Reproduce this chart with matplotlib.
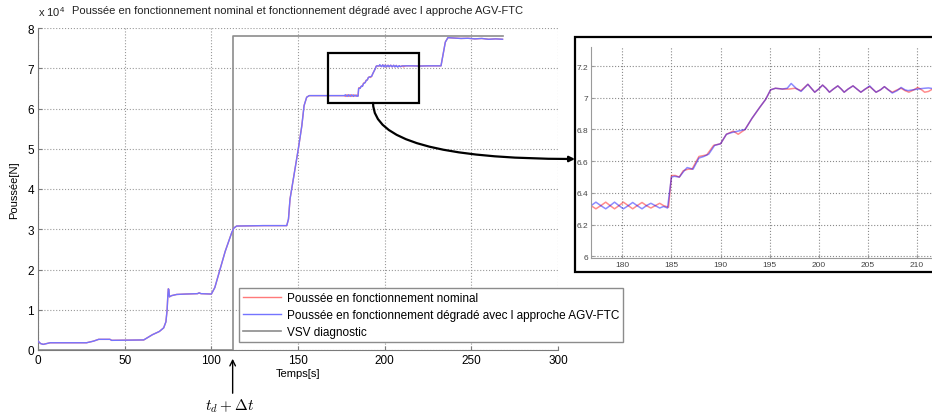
import numpy as np
import matplotlib
matplotlib.use("Agg")
import matplotlib.pyplot as plt
from matplotlib.patches import Rectangle
from matplotlib.ticker import FuncFormatter

plt.rcParams['font.family'] = ['Liberation Sans', 'DejaVu Sans']
plt.rcParams['mathtext.fontset'] = 'cm'

# ---------------- Donnees (poussee en x 10^4 N) ----------------
# Debut commun aux deux essais
t_debut = [0, 1.5, 3, 7, 28, 32, 35, 41.5, 42.5, 61, 66, 70, 72.5, 73.8, 74.5,
           74.9, 75.2, 75.5, 75.8, 77, 80, 85, 92, 93, 94, 100, 102, 105, 108,
           111.8, 113, 114.6, 130, 143.5, 144.5, 145.4, 147.3, 150.2, 152.2,
           153.5, 155, 156.5, 165, 176.3]
p_debut = [0.22, 0.16, 0.14, 0.18, 0.18, 0.22, 0.265, 0.265, 0.24, 0.25, 0.38,
           0.46, 0.55, 0.7, 1.0, 1.35, 1.52, 1.5, 1.32, 1.35, 1.38, 1.39, 1.40,
           1.42, 1.40, 1.39, 1.55, 2.0, 2.45, 2.92, 3.03, 3.08, 3.09, 3.09,
           3.25, 3.75, 4.24, 5.0, 5.57, 6.07, 6.28, 6.32, 6.32, 6.32]

# Zone agrandie - fonctionnement nominal
t_zoom_nom = [176.8, 177.3, 177.8, 178.3, 178.75, 179.2, 179.65, 180.1, 180.6,
              181.05, 181.5, 182.0, 182.45, 182.9, 183.35, 183.8, 184.2, 184.7,
              185.0, 185.4, 185.8, 186.2, 186.7, 187.1, 187.8, 188.6, 189.3,
              190.0, 190.6, 191.3, 191.8, 192.5, 193.2, 194.0, 194.6, 195.1,
              195.6, 196.3, 197.0, 197.6, 198.2, 198.9, 199.25, 199.6, 200.0,
              200.4, 200.75, 201.1, 201.5, 201.95, 202.3, 202.6, 203.0, 203.5,
              203.9, 204.3, 204.75, 205.2, 205.5, 205.85, 206.3, 206.7, 207.1,
              207.5, 208.0, 208.4, 208.8, 209.2, 209.7, 210.1, 210.5, 210.8,
              211.2, 211.6]
p_zoom_nom = [6.32, 6.30, 6.32, 6.342, 6.32, 6.30, 6.32, 6.342, 6.32, 6.30,
              6.32, 6.34, 6.32, 6.305, 6.32, 6.335, 6.32, 6.31,
              6.51, 6.51, 6.50, 6.54, 6.55, 6.55, 6.63, 6.64, 6.70, 6.71, 6.77,
              6.79, 6.77, 6.80, 6.87, 6.94, 6.99, 7.05, 7.06, 7.055, 7.055,
              7.06, 7.045, 7.085, 7.06, 7.035, 7.055, 7.08, 7.06, 7.035, 7.055,
              7.075, 7.055, 7.035, 7.055, 7.075, 7.055, 7.035, 7.055, 7.07,
              7.055, 7.035, 7.05, 7.07, 7.05, 7.035, 7.05, 7.06, 7.045, 7.035,
              7.05, 7.065, 7.05, 7.035, 7.04, 7.055]

# Zone agrandie - fonctionnement degrade (AGV-FTC)
t_zoom_deg = [176.8, 177.3, 177.8, 178.3, 178.75, 179.2, 179.65, 180.1, 180.6,
              181.05, 181.5, 182.0, 182.45, 182.9, 183.35, 183.8, 184.2, 184.6,
              185.0, 185.3, 185.8, 186.3, 186.6, 187.2, 187.8, 188.3, 188.8,
              189.4, 190.0, 190.6, 191.1, 191.8, 192.5, 193.2, 194.0, 194.6,
              195.1, 195.6, 196.3, 196.8, 197.2, 197.7, 198.2, 198.9, 199.25,
              199.6, 200.0, 200.4, 200.75, 201.1, 201.5, 201.95, 202.3, 202.6,
              203.0, 203.5, 203.9, 204.3, 204.75, 205.2, 205.5, 205.85, 206.3,
              206.7, 207.1, 207.5, 208.0, 208.4, 208.8, 209.1, 209.6, 210.1,
              210.5, 210.8, 211.2, 211.6]
p_zoom_deg = [6.32, 6.342, 6.32, 6.30, 6.32, 6.342, 6.32, 6.30, 6.32, 6.34,
              6.32, 6.30, 6.32, 6.335, 6.32, 6.305, 6.315, 6.305,
              6.50, 6.505, 6.50, 6.54, 6.56, 6.55, 6.62, 6.63, 6.645, 6.70,
              6.71, 6.77, 6.78, 6.79, 6.80, 6.87, 6.94, 6.99, 7.05, 7.06, 7.055,
              7.06, 7.09, 7.06, 7.04, 7.085, 7.06, 7.035, 7.055, 7.08, 7.06,
              7.035, 7.055, 7.075, 7.055, 7.035, 7.055, 7.075, 7.055, 7.035,
              7.055, 7.075, 7.055, 7.035, 7.05, 7.07, 7.05, 7.03, 7.045, 7.065,
              7.05, 7.045, 7.05, 7.055, 7.058, 7.06, 7.062, 7.058]

# Fin commune
t_fin = [212.5, 216, 220, 225, 230, 232.5, 233.5, 235, 236.5, 240, 244, 248,
         252, 256, 260, 264, 268]
p_fin = [7.06, 7.06, 7.055, 7.06, 7.06, 7.06, 7.3, 7.65, 7.76, 7.75, 7.74,
         7.745, 7.73, 7.74, 7.72, 7.73, 7.72]

# Signal de diagnostic VSV
t_vsv = [0, 112.3, 112.3, 268]
p_vsv = [0, 0, 7.8, 7.8]
t_diag = 112.3

# Zone encadree sur le graphe principal
cadre_t = (167.2, 220)
cadre_p = (6.14, 7.37)

labels = ["Poussée en fonctionnement nominal",
          "Poussée en fonctionnement dégradé avec l approche AGV-FTC",
          "VSV diagnostic"]

t_nom = np.concatenate([t_debut, t_zoom_nom, t_fin])
p_nom = np.concatenate([p_debut, p_zoom_nom, p_fin])
t_deg = np.concatenate([t_debut, t_zoom_deg, t_fin])
p_deg = np.concatenate([p_debut, p_zoom_deg, p_fin])

rouge = '#ff7a7a'
bleu = '#7474ff'
gris = '#8c8c8c'

W, H = 932, 414
fig = plt.figure(figsize=(W / 100, H / 100), dpi=100)

# ---------------- Graphe principal ----------------
ax = fig.add_axes([38 / W, 1 - 351 / H, 520 / W, 322 / H])
l3, = ax.plot(t_vsv, p_vsv, color=gris, lw=1.2, zorder=2)
l1, = ax.plot(t_nom, p_nom, color=rouge, lw=1.0, zorder=3)
l2, = ax.plot(t_deg, p_deg, color=bleu, lw=1.0, zorder=4)

ax.set_xlim(0, 300)
ax.set_ylim(0, 8)
ax.set_xticks(np.arange(0, 301, 50))
ax.set_yticks(np.arange(0, 9, 1))
ax.grid(True, linestyle=':', color='#9a9a9a', lw=0.8)
for s in ['top', 'right']:
    ax.spines[s].set_visible(False)
for s in ['left', 'bottom']:
    ax.spines[s].set_color('#7a7a7a')
ax.tick_params(direction='in', length=3, labelsize=8.5, color='#7a7a7a', pad=3)
ax.set_xlabel("Temps[s]", fontsize=8, labelpad=1)
ax.set_ylabel("Poussée[N]", fontsize=8, labelpad=6)
ax.set_title("Poussée en fonctionnement nominal et fonctionnement dégradé avec l approche AGV-FTC",
             fontsize=8, pad=11, color='#222222')
ax.text(0, 1.03, r'x 10$^\mathregular{4}$', transform=ax.transAxes, fontsize=8,
        ha='left', va='bottom', color='#222222')

ax.add_patch(Rectangle((cadre_t[0], cadre_p[0]), cadre_t[1] - cadre_t[0],
                       cadre_p[1] - cadre_p[0], fill=False, ec='black', lw=1.6, zorder=6))

fig.legend([l1, l2, l3], labels, loc='lower left',
           bbox_to_anchor=(239 / W, 1 - 343 / H), fontsize=8.5, handlelength=3.2,
           fancybox=False, edgecolor='#8c8c8c', framealpha=1, borderpad=0.35,
           labelspacing=0.4, handletextpad=0.5, borderaxespad=0)

# fleche t_d + delta t
ax.annotate('', xy=(t_diag, 1 - 357 / H), xycoords=('data', 'figure fraction'),
            xytext=(t_diag, 1 - 397 / H), textcoords=('data', 'figure fraction'),
            arrowprops=dict(arrowstyle='->', lw=1, color='black'),
            annotation_clip=False)
fig.text(230 / W, 1 - 406 / H, r'$t_d + \Delta t$', fontsize=11, ha='center', va='center')

# ---------------- Cadre et graphe agrandi ----------------
fig.patches.append(Rectangle((575 / W, 1 - 273 / H), 0.45, 235 / H,
                             transform=fig.transFigure, fill=True, fc='white',
                             ec='black', lw=1.6, zorder=-1))

axz = fig.add_axes([591 / W, 1 - 259 / H, (W - 591) / W, 211 / H])
axz.patch.set_alpha(0)
axz.plot(t_zoom_nom, p_zoom_nom, color='red', alpha=0.45, lw=1.1)
axz.plot(t_zoom_deg, p_zoom_deg, color='blue', alpha=0.45, lw=1.1)
axz.set_xlim(176.8, 211.55)
axz.set_ylim(5.99, 7.32)
axz.set_xticks(np.arange(180, 211, 5))
axz.set_yticks(np.arange(6.0, 7.21, 0.2))
axz.yaxis.set_major_formatter(FuncFormatter(lambda v, p: '%g' % round(v, 1)))
axz.grid(True, linestyle=':', color='#8a8a8a', lw=0.8)
for s in ['top', 'right']:
    axz.spines[s].set_visible(False)
for s in ['left', 'bottom']:
    axz.spines[s].set_color('#9a9a9a')
    axz.spines[s].set_linewidth(0.8)
axz.tick_params(direction='in', length=2, labelsize=6, labelcolor='#444444',
                color='#9a9a9a', pad=2)

# fleche courbe vers l'agrandissement
ax.annotate('', xy=(575 / W, 1 - 160 / H), xycoords='figure fraction',
            xytext=(193.3, cadre_p[0]), textcoords='data',
            arrowprops=dict(arrowstyle='-|>', lw=1.6, color='black',
                            mutation_scale=8, shrinkA=0, shrinkB=0,
                            connectionstyle='angle3,angleA=-90,angleB=0'),
            annotation_clip=False, zorder=7)

plt.savefig("out.png", dpi=100)
